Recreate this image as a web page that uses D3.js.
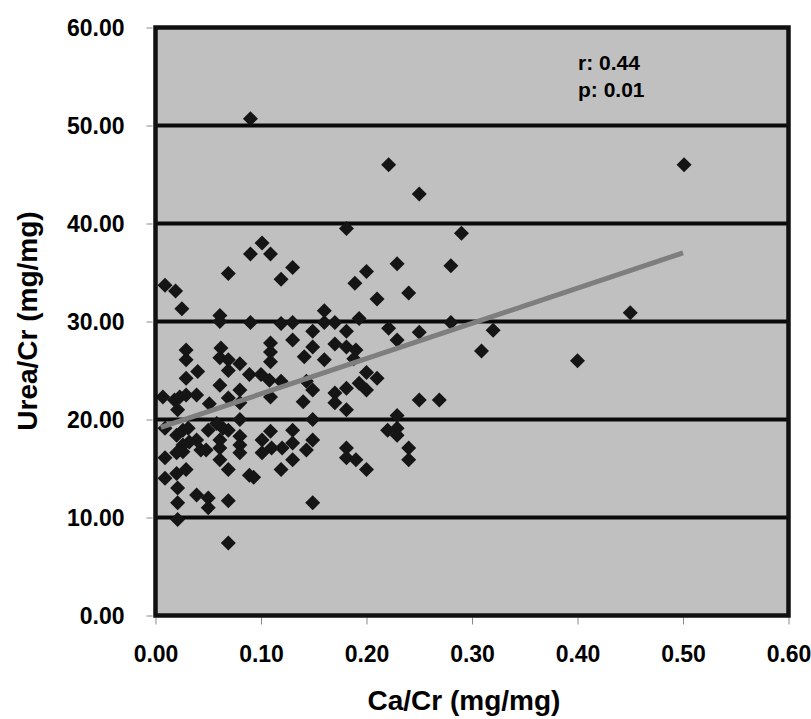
<!DOCTYPE html>
<html>
<head>
<meta charset="utf-8">
<script src="https://cdn.jsdelivr.net/npm/d3@7"></script>
<style>
  html, body { margin: 0; padding: 0; background: #ffffff; }
  svg { display: block; }
  text { font-family: "Liberation Sans", Arial, Helvetica, sans-serif; font-weight: bold; fill: #000; }
</style>
</head>
<body>
<svg id="chart" width="811" height="719"></svg>
<script>
// ---- Data ----
const xTicks = [0.0, 0.1, 0.2, 0.3, 0.4, 0.5, 0.6];
const yTicks = [0, 10, 20, 30, 40, 50, 60];
const gridValues = [10, 20, 30, 40, 50];

const caCr = [
  0.090, 0.221, 0.250, 0.501, 0.181, 0.290, 0.009, 0.019, 0.025, 0.069,
  0.090, 0.101, 0.109, 0.119, 0.130, 0.189, 0.200, 0.229, 0.210, 0.240,
  0.280, 0.061, 0.061, 0.090, 0.119, 0.130, 0.160, 0.160, 0.170, 0.193,
  0.149, 0.181, 0.221, 0.250, 0.280, 0.320, 0.450, 0.309, 0.400, 0.269,
  0.250, 0.229, 0.130, 0.149, 0.170, 0.181, 0.190, 0.029, 0.029, 0.062,
  0.061, 0.069, 0.069, 0.080, 0.040, 0.109, 0.109, 0.109, 0.141, 0.160,
  0.188, 0.200, 0.210, 0.089, 0.100, 0.108, 0.119, 0.029, 0.007, 0.018,
  0.023, 0.029, 0.039, 0.021, 0.061, 0.051, 0.069, 0.080, 0.080, 0.109,
  0.140, 0.149, 0.143, 0.170, 0.170, 0.181, 0.181, 0.193, 0.200, 0.149,
  0.229, 0.220, 0.229, 0.229, 0.240, 0.240, 0.181, 0.181, 0.190, 0.200,
  0.149, 0.143, 0.130, 0.130, 0.130, 0.120, 0.119, 0.109, 0.101, 0.101,
  0.110, 0.089, 0.080, 0.080, 0.080, 0.080, 0.069, 0.069, 0.064, 0.061,
  0.061, 0.061, 0.050, 0.058, 0.048, 0.039, 0.043, 0.032, 0.026, 0.026,
  0.020, 0.020, 0.026, 0.031, 0.009, 0.009, 0.009, 0.020, 0.029, 0.021,
  0.021, 0.021, 0.039, 0.050, 0.050, 0.069, 0.149, 0.069, 0.093
];
const ureaCr = [
  50.7, 46.0, 43.0, 46.0, 39.5, 39.0, 33.7, 33.1, 31.3, 34.9,
  36.9, 38.0, 36.9, 34.3, 35.5, 33.9, 35.1, 35.9, 32.3, 32.9,
  35.7, 30.6, 30.0, 29.9, 29.8, 29.9, 31.1, 29.9, 29.9, 30.3,
  29.0, 29.0, 29.3, 28.9, 29.9, 29.1, 30.9, 27.0, 26.0, 22.0,
  22.0, 28.1, 28.1, 27.4, 27.7, 27.4, 27.1, 27.1, 26.1, 27.3,
  26.3, 26.1, 25.0, 25.7, 24.9, 27.8, 26.9, 25.9, 26.4, 26.1,
  26.2, 24.8, 24.2, 24.6, 24.6, 24.0, 23.9, 24.2, 22.3, 22.0,
  22.3, 22.5, 22.5, 21.0, 23.5, 21.6, 22.2, 23.0, 21.7, 22.3,
  21.8, 23.0, 23.9, 22.7, 21.7, 23.2, 21.0, 23.7, 23.0, 20.0,
  20.4, 18.9, 19.1, 18.4, 17.1, 15.9, 17.1, 16.1, 15.9, 14.9,
  17.9, 16.9, 18.9, 17.6, 15.9, 17.1, 14.9, 18.8, 17.9, 16.6,
  17.1, 14.3, 18.3, 17.4, 16.6, 20.0, 18.9, 14.9, 19.1, 17.9,
  17.1, 15.9, 18.9, 19.6, 16.9, 17.9, 16.9, 17.7, 17.4, 16.7,
  16.6, 18.4, 18.9, 19.1, 19.1, 16.1, 14.0, 14.5, 14.9, 13.0,
  11.5, 9.8, 12.3, 12.0, 11.0, 11.7, 11.5, 7.4, 14.1
];

// Trend line end points (as drawn in the reference)
const trendX = [0.005, 0.50];
const trendY = [19.2, 37.0];

const statLines = ["r: 0.44", "p: 0.01"];
const xTitle = "Ca/Cr (mg/mg)";
const yTitle = "Urea/Cr (mg/mg)";

// ---- Drawing ----
const svg = d3.select("#chart");
const x = d3.scaleLinear().domain([0, 0.6]).range([155.5, 788.5]);
const y = d3.scaleLinear().domain([0, 60]).range([615.5, 27.5]);

// plot background
svg.append("rect")
  .attr("x", x(0)).attr("y", y(60))
  .attr("width", x(0.6) - x(0)).attr("height", y(0) - y(60))
  .attr("fill", "#c0c0c0");

// horizontal grid lines
svg.append("g").selectAll("line").data(gridValues).join("line")
  .attr("x1", x(0)).attr("x2", x(0.6))
  .attr("y1", d => y(d)).attr("y2", d => y(d))
  .attr("stroke", "#0a0a0a").attr("stroke-width", 4);

// Y axis
const yAxis = svg.append("g")
  .attr("transform", `translate(${x(0) - 3},0)`)
  .call(d3.axisLeft(y).tickValues(yTicks).tickFormat(d => d.toFixed(2)).tickSizeInner(6).tickSizeOuter(0).tickPadding(22));
yAxis.select(".domain").remove();
yAxis.selectAll(".tick line").attr("stroke", "#8a8a8a").attr("stroke-width", 1);
yAxis.selectAll(".tick text").attr("font-size", 23).attr("dy", "0.33em")
  .style("font-family", "'Liberation Sans', Arial, sans-serif").style("font-weight", "bold").attr("fill", "#000");

// X axis
const xAxis = svg.append("g")
  .attr("transform", `translate(0,${y(0) + 2})`)
  .call(d3.axisBottom(x).tickValues(xTicks).tickFormat(d => d.toFixed(2)).tickSizeInner(7).tickSizeOuter(0));
xAxis.select(".domain").remove();
xAxis.selectAll(".tick line").attr("stroke", "#8a8a8a").attr("stroke-width", 1);
xAxis.selectAll(".tick text").attr("font-size", 23).attr("dy", null).attr("y", 44)
  .style("font-family", "'Liberation Sans', Arial, sans-serif").style("font-weight", "bold").attr("fill", "#000");

// scatter points (diamonds)
const pts = caCr.map((v, i) => ({ x: v, y: ureaCr[i] }));
const diamond = "M0,-7.5L7.5,0L0,7.5L-7.5,0Z";
svg.append("g").selectAll("path").data(pts).join("path")
  .attr("d", diamond)
  .attr("transform", d => `translate(${x(d.x)},${y(d.y)})`)
  .attr("fill", "#151515");

// trend line
svg.append("path")
  .datum(trendX.map((v, i) => [v, trendY[i]]))
  .attr("d", d3.line().x(d => x(d[0])).y(d => y(d[1])))
  .attr("fill", "none").attr("stroke", "#7e7e7e").attr("stroke-width", 5);

// frame
svg.append("rect")
  .attr("x", x(0)).attr("y", y(60))
  .attr("width", x(0.6) - x(0)).attr("height", y(0) - y(60))
  .attr("fill", "none").attr("stroke", "#111").attr("stroke-width", 4.5);

// stats annotation
svg.append("g").selectAll("text").data(statLines).join("text")
  .attr("x", 578).attr("y", (d, i) => 70 + i * 27)
  .attr("font-size", 21)
  .text(d => d);

// axis titles
svg.append("text")
  .attr("x", (x(0) + x(0.6)) / 2 - 8).attr("y", 710)
  .attr("text-anchor", "middle").attr("font-size", 28)
  .text(xTitle);

svg.append("text")
  .attr("transform", `translate(37,321) rotate(-90)`)
  .attr("text-anchor", "middle").attr("font-size", 28)
  .text(yTitle);
</script>
</body>
</html>
